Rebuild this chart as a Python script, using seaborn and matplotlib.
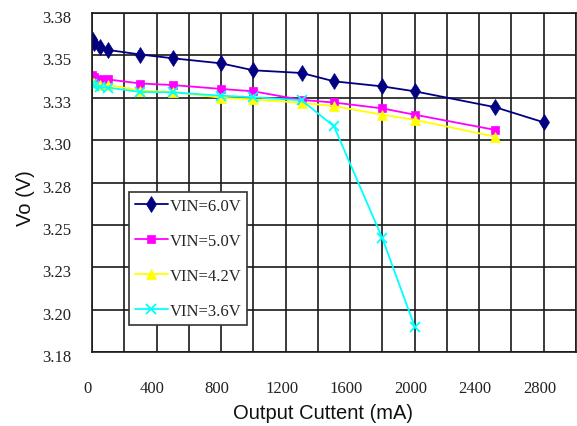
import matplotlib
matplotlib.use("Agg")
import matplotlib.pyplot as plt
from matplotlib.transforms import ScaledTranslation
import seaborn as sns
import numpy as np

# Output current (mA) at each measurement point
current = [0, 10, 50, 100, 300, 500, 800, 1000, 1300, 1500, 1800, 2000, 2500, 2800]

# Output voltage (V) for each input voltage
vin_60 = [3.3597, 3.3575, 3.3550, 3.3532, 3.3505, 3.3483, 3.3453, 3.3412,
          3.3396, 3.3347, 3.3317, 3.3288, 3.3194, 3.3105]
vin_50 = [3.3384, 3.3372, 3.3360, 3.3358, 3.3334, 3.3325, 3.3302, 3.3288,
          3.3237, 3.3222, 3.3187, 3.3150, 3.3060]
vin_42 = [3.3340, 3.3335, 3.3328, 3.3326, 3.3292, 3.3285, 3.3250, 3.3240,
          3.3220, 3.3201, 3.3150, 3.3120, 3.3020]
vin_36 = [3.3330, 3.3320, 3.3313, 3.3310, 3.3284, 3.3282, 3.3262, 3.3253,
          3.3235, 3.3081, 3.2420, 3.1900]

series_names = ["VIN=6.0V", "VIN=5.0V", "VIN=4.2V", "VIN=3.6V"]
series_values = [vin_60, vin_50, vin_42, vin_36]

y_ticks = [3.175, 3.200, 3.225, 3.250, 3.275, 3.300, 3.325, 3.350, 3.375]
y_tick_labels = ["3.18", "3.20", "3.23", "3.25", "3.28", "3.30", "3.33", "3.35", "3.38"]
x_ticks = [0, 400, 800, 1200, 1600, 2000, 2400, 2800]

sns.set_theme(style="white")
plt.rcParams["font.family"] = ["Liberation Serif", "DejaVu Serif"]

colors = ["#000080", "#FF00FF", "#FFFF00", "#00FFFF"]
markers = ["d", "s", "^", "x"]
msizes = [8, 5.5, 6.5, 6.5]

fig = plt.figure(figsize=(5.77, 4.27), dpi=100)
ax = fig.add_axes([92 / 577, (427 - 353) / 427, 484 / 577, 339 / 427])

for name, vals, c, m, ms in zip(series_names, series_values, colors, markers, msizes):
    n = len(vals)
    sns.lineplot(x=current[:n], y=vals, ax=ax, color=c, marker=m,
                 markersize=ms, markeredgecolor=c, markerfacecolor=c,
                 markeredgewidth=1.3 if m == "x" else 0.5,
                 linewidth=1.3, label=name, sort=False, estimator=None)

ax.set_xlim(0, 3000)
ax.set_ylim(3.175, 3.375)
ax.set_xticks(x_ticks)
ax.set_xticks(np.arange(0, 3001, 200), minor=True)
ax.set_yticks(y_ticks)
ax.set_yticklabels(y_tick_labels)

grid_color = "#1a1a1a"
ax.grid(True, which="both", color=grid_color, linewidth=1.2)
ax.set_axisbelow(True)
for sp in ax.spines.values():
    sp.set_visible(True)
    sp.set_color(grid_color)
    sp.set_linewidth(1.2)

ax.tick_params(axis="both", which="both", length=0, labelsize=12, labelcolor="#222222")
ax.tick_params(axis="y", pad=15)
ax.tick_params(axis="x", pad=20)

# small nudges of the tick labels relative to their grid lines
for lab in ax.get_xticklabels():
    lab.set_transform(lab.get_transform() + ScaledTranslation(-0.04, 0, fig.dpi_scale_trans))
for lab in ax.get_yticklabels():
    lab.set_transform(lab.get_transform() + ScaledTranslation(0, -0.03, fig.dpi_scale_trans))

ax.set_xlabel("Output Cuttent (mA)", family="Liberation Sans", fontsize=14.5, color="#111111")
ax.set_ylabel("Vo (V)", family="Liberation Sans", fontsize=14.5, color="#111111")
ax.xaxis.set_label_coords(0.477, -0.177)
ax.xaxis.label.set_va("center")
ax.yaxis.set_label_coords(-0.137, 0.457)
ax.yaxis.label.set_va("center")

leg = ax.legend(loc="lower left", bbox_to_anchor=(0.0764, 0.0796), borderaxespad=0,
                fontsize=12, frameon=True, fancybox=False, framealpha=1,
                edgecolor="#333333", handlelength=2.0, handletextpad=0.1,
                labelspacing=1.15, borderpad=0.35)
leg.get_frame().set_linewidth(1.2)

fig.savefig("out.png", dpi=100, facecolor="white")
